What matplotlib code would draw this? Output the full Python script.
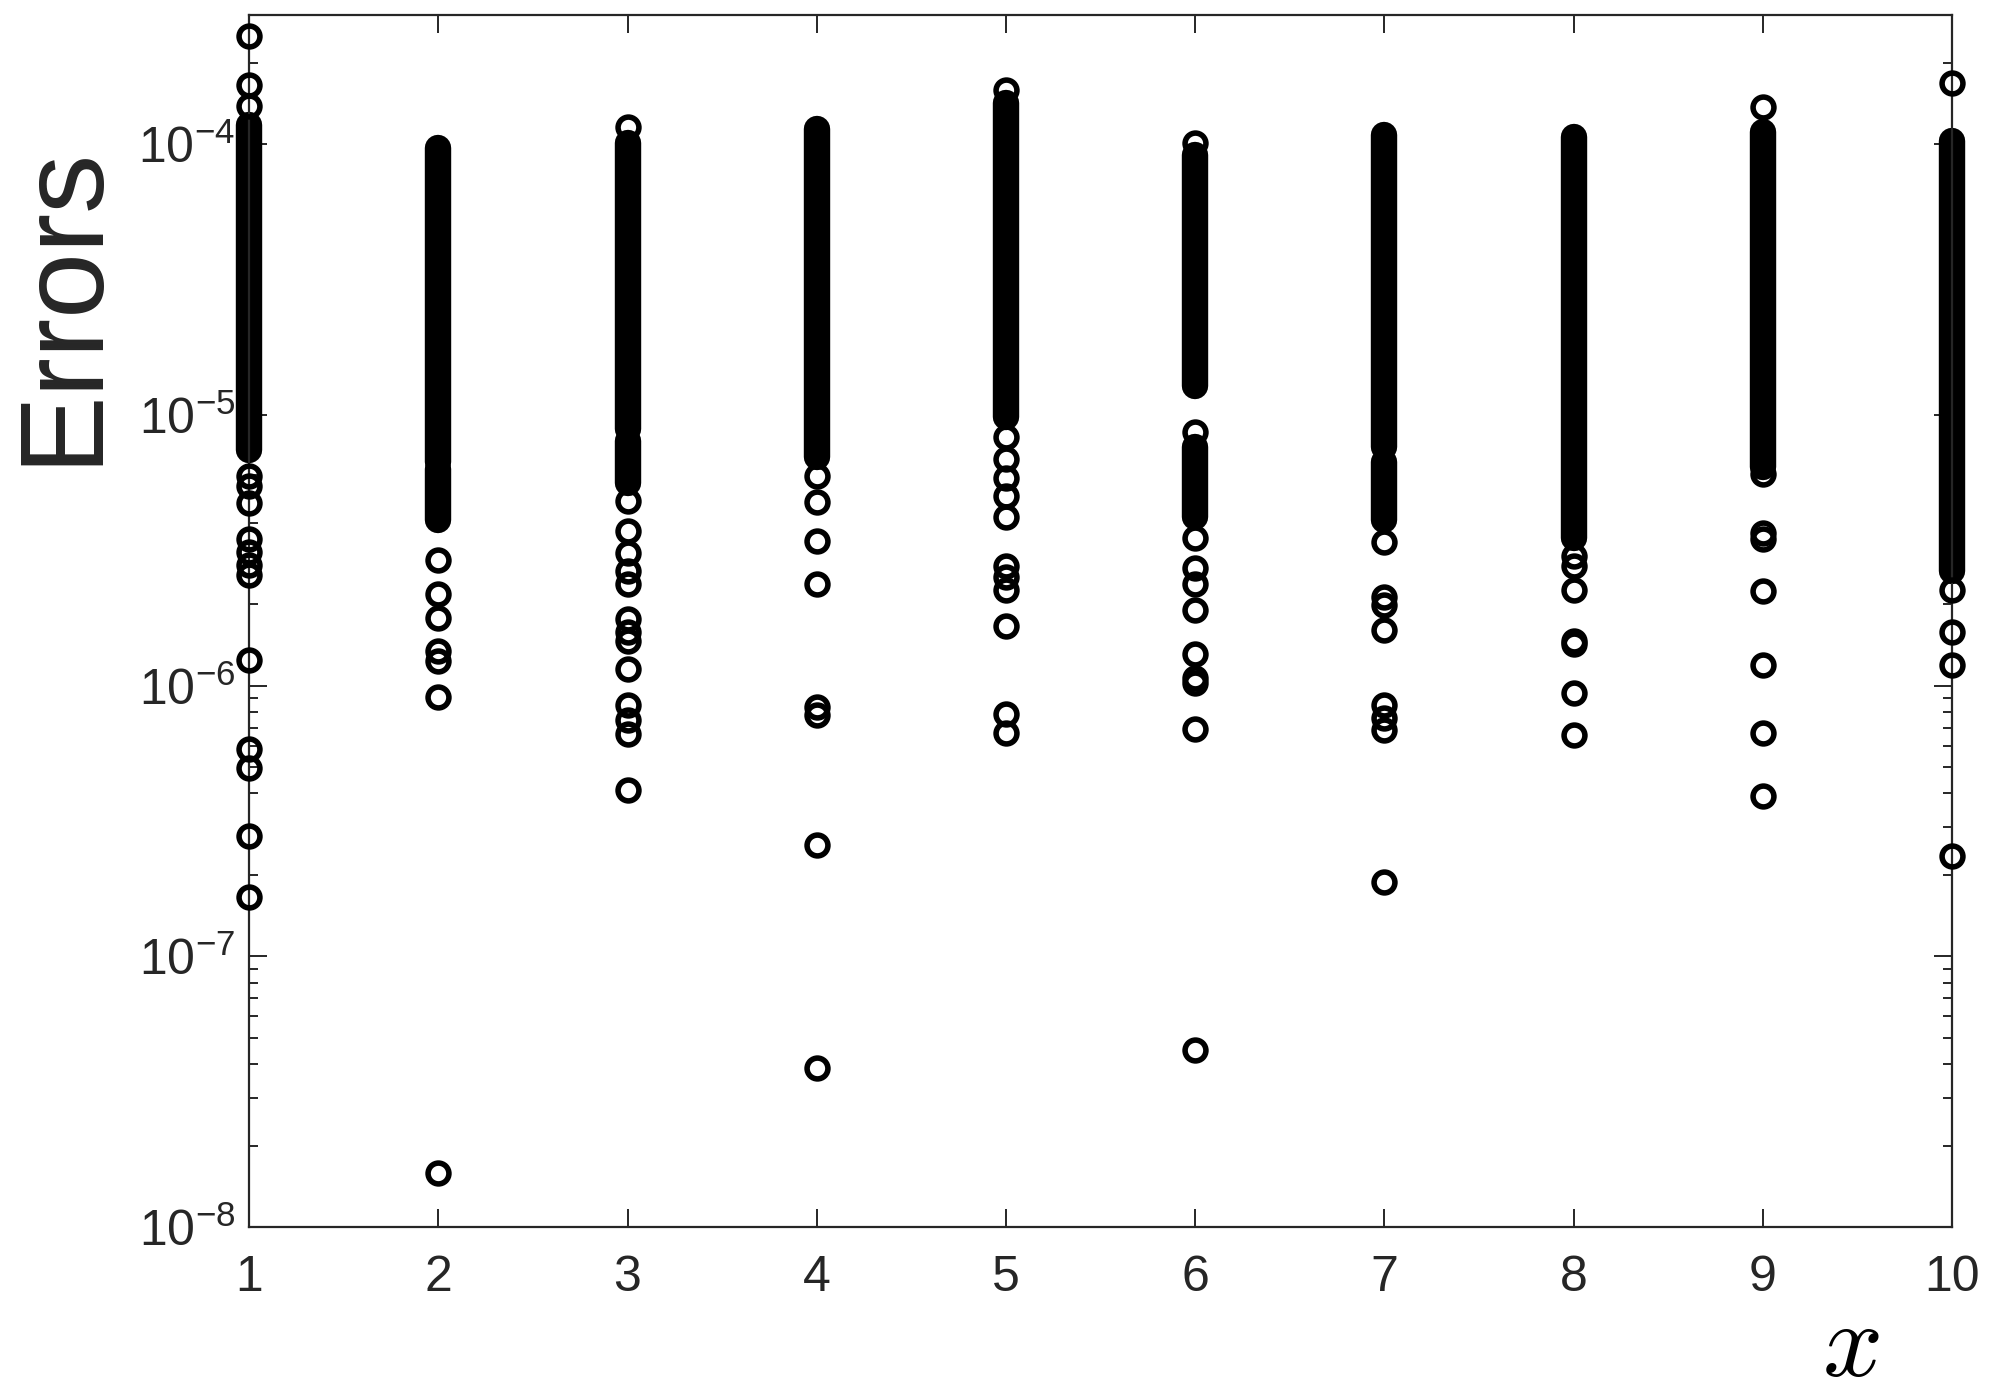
import matplotlib
matplotlib.use("Agg")
import matplotlib.pyplot as plt
from matplotlib.ticker import LogLocator, FixedLocator, NullFormatter, FuncFormatter
import numpy as np

plt.rcParams["font.family"] = ["Liberation Sans", "DejaVu Sans"]
plt.rcParams["mathtext.fontset"] = "custom"
plt.rcParams["mathtext.rm"] = "Liberation Sans"
plt.rcParams["mathtext.it"] = "Liberation Sans:italic"
plt.rcParams["mathtext.default"] = "regular"

GRAY = "#262626"

# x positions of the ten columns
x_cols = [1, 2, 3, 4, 5, 6, 7, 8, 9, 10]

# dense parts of each column (too many overlapping circles to read one by one)
band_x  = [1,      2,      2,      3,      3,      4,      5,       6,       6,      7,      7,      8,      9,      10]
band_lo = [7.4e-6, 6.7e-6, 4.1e-6, 8.9e-6, 5.6e-6, 7.0e-6, 9.8e-6,  1.28e-5, 4.2e-6, 7.6e-6, 4.1e-6, 3.5e-6, 6.4e-6, 2.65e-6]
band_hi = [1.18e-4, 9.7e-5, 6.3e-6, 1.01e-4, 8.0e-6, 1.14e-4, 1.42e-4, 9.1e-5, 7.6e-6, 1.08e-4, 6.7e-6, 1.06e-4, 1.11e-4, 1.03e-4]

# separate circles, per column
err_1 = [2.51e-4, 1.66e-4, 1.38e-4, 5.97e-6, 5.48e-6, 4.71e-6, 3.47e-6, 3.12e-6,
         2.80e-6, 2.56e-6, 1.24e-6, 5.82e-7, 4.94e-7, 2.79e-7, 1.66e-7]
err_2 = [2.92e-6, 2.18e-6, 1.77e-6, 1.34e-6, 1.23e-6, 9.08e-7, 1.59e-8]
err_3 = [1.16e-4, 4.81e-6, 3.71e-6, 3.08e-6, 2.65e-6, 2.38e-6, 1.76e-6, 1.58e-6,
         1.46e-6, 1.15e-6, 8.49e-7, 7.46e-7, 6.62e-7, 4.11e-7]
err_4 = [5.92e-6, 4.77e-6, 3.43e-6, 2.38e-6, 8.32e-7, 7.80e-7, 2.58e-7, 3.87e-8]
err_5 = [1.58e-4, 8.28e-6, 6.89e-6, 5.85e-6, 5.03e-6, 4.18e-6, 2.77e-6, 2.51e-6,
         2.25e-6, 1.66e-6, 7.87e-7, 6.70e-7]
err_6 = [1.01e-4, 8.63e-6, 3.52e-6, 2.71e-6, 2.38e-6, 1.90e-6, 1.31e-6, 1.07e-6,
         1.02e-6, 6.92e-7, 4.51e-8]
err_7 = [3.40e-6, 2.13e-6, 1.98e-6, 1.61e-6, 8.49e-7, 7.62e-7, 6.84e-7, 1.88e-7]
err_8 = [3.02e-6, 2.77e-6, 2.25e-6, 1.46e-6, 1.42e-6, 9.38e-7, 6.55e-7]
err_9 = [1.37e-4, 6.04e-6, 3.67e-6, 3.47e-6, 2.23e-6, 1.19e-6, 6.70e-7, 3.90e-7]
err_10 = [1.68e-4, 2.25e-6, 1.58e-6, 1.19e-6, 2.34e-7]

errs = [err_1, err_2, err_3, err_4, err_5, err_6, err_7, err_8, err_9, err_10]

fig = plt.figure(figsize=(19.94, 13.98), dpi=100)
ax = fig.add_axes([0.1249, 0.1223, 0.8541, 0.8670])

MS, MEW = 15, 4.0
ax.vlines(band_x, band_lo, band_hi, colors="k", linewidth=MS + MEW,
          capstyle="round", clip_on=False, zorder=2)
for xc, ys in zip(x_cols, errs):
    ax.plot([xc] * len(ys), ys, "o", mfc="none", mec="k", ms=MS, mew=MEW,
            ls="none", clip_on=False, zorder=3)

ax.set_yscale("log")
ax.set_xlim(1, 10)
ax.set_ylim(1e-8, 3e-4)
ax.xaxis.set_major_locator(FixedLocator(x_cols))
ax.yaxis.set_major_locator(LogLocator(base=10, numticks=20))
ax.yaxis.set_minor_locator(LogLocator(base=10, subs=np.arange(2, 10), numticks=20))
ax.yaxis.set_minor_formatter(NullFormatter())
ax.yaxis.set_major_formatter(FuncFormatter(
    lambda v, p: r"$10^{%d}$" % int(round(np.log10(v)))))

ax.tick_params(which="both", direction="in", top=True, right=True,
               colors=GRAY, width=1.4)
ax.tick_params(which="major", length=13, labelsize=36)
ax.tick_params(which="minor", length=6.5)
ax.tick_params(axis="x", pad=20)
ax.tick_params(axis="y", pad=10)
for s in ax.spines.values():
    s.set_color(GRAY)
    s.set_linewidth(1.6)

fig.text(0.032, 0.782, "Errors", rotation=90, ha="center", va="center",
         fontsize=85, color=GRAY)
fig.text(0.928, 0.016, r"$\mathit{x}$", ha="center", va="baseline", fontsize=76,
         color="k", math_fontfamily="cm")

fig.savefig("out.png", dpi=100, facecolor="white")
